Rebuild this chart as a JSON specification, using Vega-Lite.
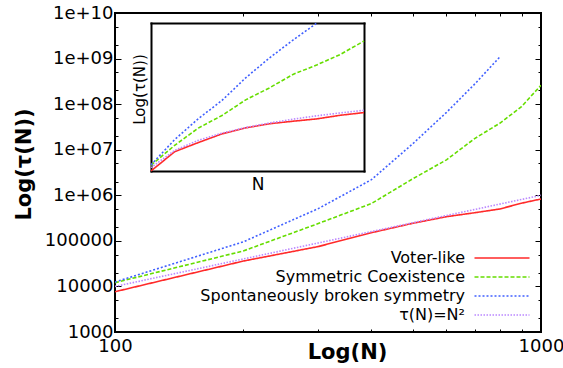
{
  "$schema": "https://vega.github.io/schema/vega-lite/v6.json",
  "width": 426,
  "height": 319,
  "autosize": {"type": "none"},
  "padding": {"left": 115, "top": 13, "right": 22, "bottom": 36},
  "background": "white",
  "config": {
    "view": {"stroke": "black", "strokeWidth": 2},
    "font": "DejaVu Sans",
    "axis": {"grid": false, "labelColor": "black", "titleColor": "black", "tickColor": "black", "domainColor": "black"}
  },
  "datasets": {
    "d": [
      {"N": 100, "tau": 7650, "series": "Voter-like"},
      {"N": 200, "tau": 36000, "series": "Voter-like"},
      {"N": 300, "tau": 75000, "series": "Voter-like"},
      {"N": 400, "tau": 151000, "series": "Voter-like"},
      {"N": 500, "tau": 243000, "series": "Voter-like"},
      {"N": 600, "tau": 339000, "series": "Voter-like"},
      {"N": 700, "tau": 415000, "series": "Voter-like"},
      {"N": 800, "tau": 500000, "series": "Voter-like"},
      {"N": 900, "tau": 670000, "series": "Voter-like"},
      {"N": 1000, "tau": 830000, "series": "Voter-like"},
      {"N": 100, "tau": 12100, "series": "Symmetric Coexistence"},
      {"N": 200, "tau": 60000, "series": "Symmetric Coexistence"},
      {"N": 300, "tau": 240000, "series": "Symmetric Coexistence"},
      {"N": 400, "tau": 660000, "series": "Symmetric Coexistence"},
      {"N": 500, "tau": 2300000, "series": "Symmetric Coexistence"},
      {"N": 600, "tau": 6000000, "series": "Symmetric Coexistence"},
      {"N": 700, "tau": 17800000, "series": "Symmetric Coexistence"},
      {"N": 800, "tau": 38000000, "series": "Symmetric Coexistence"},
      {"N": 900, "tau": 88000000, "series": "Symmetric Coexistence"},
      {"N": 1000, "tau": 260000000, "series": "Symmetric Coexistence"},
      {"N": 100, "tau": 12500, "series": "Spontaneously broken symmetry"},
      {"N": 200, "tau": 95000, "series": "Spontaneously broken symmetry"},
      {"N": 300, "tau": 510000, "series": "Spontaneously broken symmetry"},
      {"N": 400, "tau": 2200000, "series": "Spontaneously broken symmetry"},
      {"N": 500, "tau": 13500000, "series": "Spontaneously broken symmetry"},
      {"N": 600, "tau": 66000000, "series": "Spontaneously broken symmetry"},
      {"N": 700, "tau": 280000000, "series": "Spontaneously broken symmetry"},
      {"N": 800, "tau": 1080000000, "series": "Spontaneously broken symmetry"},
      {"N": 100, "tau": 10000, "series": "τ(N)=N²"},
      {"N": 200, "tau": 40000, "series": "τ(N)=N²"},
      {"N": 300, "tau": 90000, "series": "τ(N)=N²"},
      {"N": 400, "tau": 160000, "series": "τ(N)=N²"},
      {"N": 500, "tau": 250000, "series": "τ(N)=N²"},
      {"N": 600, "tau": 360000, "series": "τ(N)=N²"},
      {"N": 700, "tau": 490000, "series": "τ(N)=N²"},
      {"N": 800, "tau": 640000, "series": "τ(N)=N²"},
      {"N": 900, "tau": 810000, "series": "τ(N)=N²"},
      {"N": 1000, "tau": 1000000, "series": "τ(N)=N²"}
    ]
  },
  "data": {"name": "d"},
  "layer": [
    {
      "mark": {"type": "line", "strokeWidth": 1.6, "clip": true},
      "encoding": {
        "x": {
          "field": "N", "type": "quantitative",
          "scale": {"type": "log", "domain": [100, 1000], "nice": false},
          "axis": {
            "orient": "bottom", "domain": false,
            "values": [100, 200, 300, 400, 500, 600, 700, 800, 900, 1000],
            "labelExpr": "datum.value == 100 || datum.value == 1000 ? format(datum.value, 'd') : ''",
            "labelFlush": false, "labelOverlap": false,
            "labelFontSize": 18, "labelPadding": 8,
            "encode": {"labels": {"update": {"align": {"signal": "datum.value == 100 ? 'left' : 'center'"}, "dx": {"signal": "datum.value == 100 ? -4 : -2"}}}},
            "tickSize": -3, "tickWidth": 1,
            "title": "Log(N)", "titleFontSize": 21, "titleFontWeight": "bold",
            "titleX": 232, "titleY": 20, "titleBaseline": "middle"
          }
        },
        "y": {
          "field": "tau", "type": "quantitative",
          "scale": {"type": "log", "domain": [1000, 10000000000], "nice": false},
          "axis": {
            "orient": "left", "domain": false,
            "values": [1000, 2000, 5000, 10000, 20000, 50000, 100000, 200000, 500000, 1000000, 2000000, 5000000, 10000000, 20000000, 50000000, 100000000, 200000000, 500000000, 1000000000, 2000000000, 5000000000, 10000000000],
            "labelExpr": "indexof([1000, 10000, 100000], datum.value) >= 0 ? format(datum.value, 'd') : (indexof([1000000, 10000000, 100000000, 1000000000], datum.value) >= 0 ? '1e+0' + round(log(datum.value) / LN10) : (datum.value == 10000000000 ? '1e+10' : ''))",
            "labelOverlap": false, "labelFlush": false,
            "labelFontSize": 18, "labelPadding": 8,
            "tickSize": {"condition": {"test": "indexof([1000, 10000, 100000, 1000000, 10000000, 100000000, 1000000000, 10000000000], datum.value) >= 0", "value": -6}, "value": -3},
            "tickWidth": 1,
            "title": "Log(τ(N))", "titleFontSize": 21, "titleFontWeight": "bold",
            "titleX": -91, "titleY": 151, "titleBaseline": "middle", "titleAngle": -90
          }
        },
        "color": {
          "field": "series", "type": "nominal",
          "scale": {"domain": ["Voter-like", "Symmetric Coexistence", "Spontaneously broken symmetry", "τ(N)=N²"], "range": ["#ff2a2a", "#66dd00", "#4060ff", "#bb88ff"]},
          "legend": {
            "orient": "none", "legendX": 379, "legendY": 237, "title": null,
            "symbolType": "M-5,0H5", "symbolSize": 121, "symbolStrokeWidth": 1.6,
            "labelAlign": "right", "labelOffset": -45, "labelFontSize": 16, "labelLimit": 400, "labelColor": "black",
            "rowPadding": 3
          }
        },
        "strokeDash": {
          "field": "series", "type": "nominal",
          "scale": {"domain": ["Voter-like", "Symmetric Coexistence", "Spontaneously broken symmetry", "τ(N)=N²"], "range": [[1, 0], [4, 2], [2, 2], [1.5, 1.5]]},
          "legend": {
            "orient": "none", "legendX": 379, "legendY": 237, "title": null,
            "symbolType": "M-5,0H5", "symbolSize": 121, "symbolStrokeWidth": 1.6,
            "labelAlign": "right", "labelOffset": -45, "labelFontSize": 16, "labelLimit": 400, "labelColor": "black",
            "rowPadding": 3
          }
        }
      }
    },
    {
      "mark": {"type": "line", "opacity": 0},
      "encoding": {
        "x": {
          "field": "N", "type": "quantitative",
          "scale": {"type": "log", "domain": [100, 1000], "nice": false},
          "axis": {"orient": "top", "domain": false, "labels": false, "title": null, "values": [100, 200, 300, 400, 500, 600, 700, 800, 900, 1000], "tickSize": -3, "tickWidth": 1}
        },
        "y": {
          "field": "tau", "type": "quantitative",
          "scale": {"type": "log", "domain": [1000, 10000000000], "nice": false},
          "axis": {
            "orient": "right", "domain": false, "labels": false, "title": null,
            "values": [1000, 2000, 5000, 10000, 20000, 50000, 100000, 200000, 500000, 1000000, 2000000, 5000000, 10000000, 20000000, 50000000, 100000000, 200000000, 500000000, 1000000000, 2000000000, 5000000000, 10000000000],
            "tickSize": {"condition": {"test": "indexof([1000, 10000, 100000, 1000000, 10000000, 100000000, 1000000000, 10000000000], datum.value) >= 0", "value": -6}, "value": -3},
            "tickWidth": 1
          }
        },
        "detail": {"field": "series", "type": "nominal"}
      }
    },
    {
      "mark": {"type": "line", "strokeWidth": 1.6},
      "encoding": {
        "x": {
          "field": "N", "type": "quantitative",
          "scale": {"type": "linear", "domain": [100, 1000], "range": [36, 249], "nice": false, "zero": false},
          "axis": {"orient": "bottom", "offset": -161, "domain": true, "domainWidth": 2, "domainCap": "square", "ticks": false, "labels": false, "title": "N", "titleFontSize": 17, "titleFontWeight": "normal", "titlePadding": 5}
        },
        "y": {
          "field": "tau", "type": "quantitative",
          "scale": {"type": "log", "domain": [7650, 1100000000], "range": [158, 10], "nice": false},
          "axis": {"orient": "left", "offset": -36, "domain": true, "domainWidth": 2, "domainCap": "square", "ticks": false, "labels": false, "title": "Log(τ(N))", "titleFontSize": 15, "titleFontWeight": "normal", "titlePadding": 4, "titleY": 76}
        },
        "color": {"field": "series", "type": "nominal", "scale": {"domain": ["Voter-like", "Symmetric Coexistence", "Spontaneously broken symmetry", "τ(N)=N²"], "range": ["#ff2a2a", "#66dd00", "#4060ff", "#bb88ff"]}},
        "strokeDash": {"field": "series", "type": "nominal", "scale": {"domain": ["Voter-like", "Symmetric Coexistence", "Spontaneously broken symmetry", "τ(N)=N²"], "range": [[1, 0], [4, 2], [2, 2], [1.5, 1.5]]}}
      }
    },
    {
      "mark": {"type": "line", "opacity": 0},
      "encoding": {
        "x": {
          "field": "N", "type": "quantitative",
          "scale": {"type": "linear", "domain": [100, 1000], "range": [36, 249], "nice": false, "zero": false},
          "axis": {"orient": "top", "offset": -10, "domain": true, "domainWidth": 2, "domainCap": "square", "ticks": false, "labels": false, "title": null}
        },
        "y": {
          "field": "tau", "type": "quantitative",
          "scale": {"type": "log", "domain": [7650, 1100000000], "range": [158, 10], "nice": false},
          "axis": {"orient": "right", "offset": -177, "domain": true, "domainWidth": 2, "domainCap": "square", "ticks": false, "labels": false, "title": null}
        },
        "detail": {"field": "series", "type": "nominal"}
      }
    }
  ],
  "resolve": {
    "scale": {"x": "independent", "y": "independent"},
    "axis": {"x": "independent", "y": "independent"}
  }
}
